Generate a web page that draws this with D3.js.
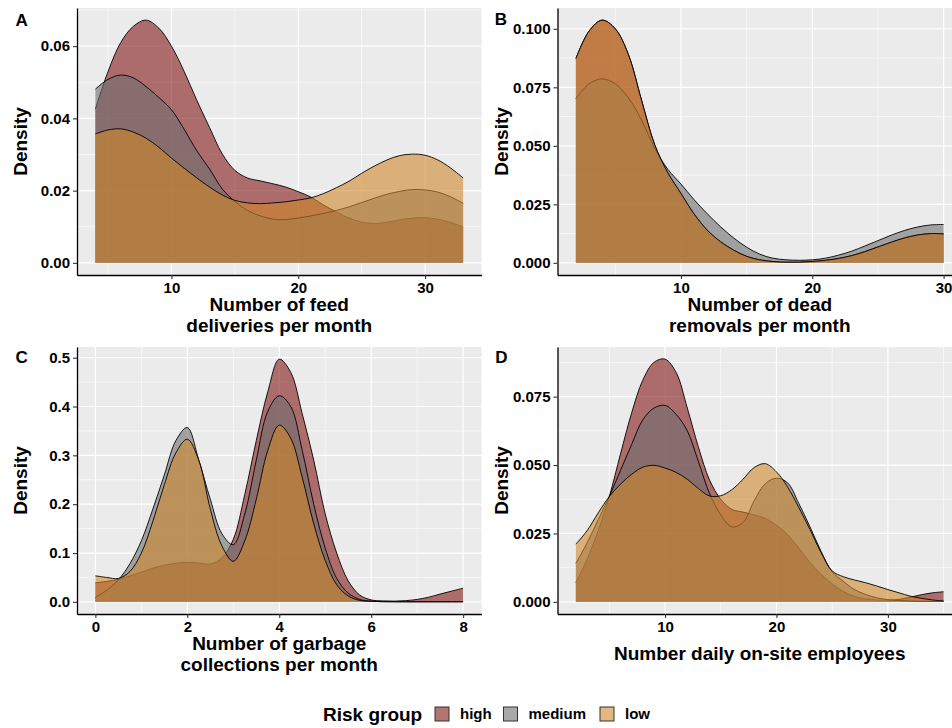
<!DOCTYPE html>
<html>
<head>
<meta charset="utf-8">
<script src="https://cdn.jsdelivr.net/npm/d3@7"></script>
<style>
  html, body { margin: 0; padding: 0; background: #ffffff; }
  svg { display: block; font-family: "Liberation Sans", Arial, Helvetica, sans-serif; }
</style>
</head>
<body>
<svg id="fig" width="952" height="728"></svg>
<script>
// ---- Risk groups (drawing order: high, medium, low) ----
const riskGroups = ["high", "medium", "low"];

// ---- A: feed deliveries per month (kernel density estimates) ----
const feedX = [4,5,6,7,8,9,10,11,12,13,14,15,16,17,18,19,20,21,22,23,24,25,26,27,28,29,30,31,32,33];
const feedHigh = [0.0426,0.053,0.061,0.0655,0.0672,0.065,0.060,0.053,0.045,0.0375,0.0302,0.0256,0.0235,0.0227,0.0219,0.0210,0.0197,0.0182,0.016,0.0141,0.0124,0.0113,0.0109,0.0112,0.0119,0.0124,0.0125,0.0121,0.0112,0.00995];
const feedMedium = [0.0481,0.0508,0.052,0.0512,0.0488,0.0458,0.0424,0.037,0.031,0.026,0.0205,0.017,0.0145,0.013,0.0121,0.012,0.0124,0.013,0.0137,0.0145,0.0155,0.0167,0.0179,0.019,0.0198,0.0203,0.0202,0.0196,0.0183,0.0165];
const feedLow = [0.0357,0.0368,0.0371,0.0362,0.0345,0.032,0.029,0.0262,0.0235,0.021,0.0188,0.0173,0.0166,0.0164,0.0166,0.0169,0.0174,0.018,0.0192,0.0208,0.0226,0.0248,0.0268,0.0285,0.0297,0.0301,0.0298,0.0285,0.0263,0.0235];
const feedTicksX = [10, 20, 30];
const feedTicksY = [0, 0.02, 0.04, 0.06];

// ---- B: dead removals per month ----
const deadX = [2,3,4,5,6,7,8,9,10,11,12,13,14,15,16,17,18,19,20,21,22,23,24,25,26,27,28,29,30];
const deadHigh = [0.0873,0.099,0.1037,0.1000,0.089,0.0695,0.0505,0.0385,0.0297,0.0209,0.014,0.0091,0.0055,0.0028,0.0013,0.0006,0.0003,0.0003,0.0006,0.0011,0.0019,0.0031,0.0048,0.0068,0.0088,0.0106,0.0119,0.0125,0.0124];
const deadMedium = [0.0702,0.0765,0.0786,0.0765,0.0705,0.061,0.049,0.040,0.0337,0.027,0.021,0.0155,0.0107,0.0067,0.0037,0.002,0.0013,0.0011,0.0013,0.002,0.0033,0.005,0.0072,0.0095,0.0118,0.0138,0.0153,0.0162,0.0164];
const deadLow = [0.0873,0.099,0.1037,0.1000,0.089,0.0695,0.0505,0.0385,0.0297,0.0209,0.014,0.0091,0.0055,0.0028,0.0013,0.0006,0.0003,0.0003,0.0006,0.0011,0.0019,0.0031,0.0048,0.0068,0.0088,0.0106,0.0119,0.0125,0.0124];
const deadTicksX = [10, 20, 30];
const deadTicksY = [0, 0.025, 0.05, 0.075, 0.1];

// ---- C: garbage collections per month ----
const garbageX = [0,0.25,0.5,0.75,1,1.25,1.5,1.75,2,2.25,2.5,2.75,3,3.25,3.5,3.75,4,4.25,4.5,4.75,5,5.25,5.5,5.75,6,6.25,6.5,6.75,7,7.25,7.5,7.75,8];
const garbageHigh = [0.039,0.042,0.046,0.053,0.061,0.069,0.075,0.079,0.081,0.0795,0.0775,0.09,0.128,0.22,0.33,0.43,0.497,0.47,0.385,0.29,0.18,0.10,0.043,0.014,0.004,0.002,0.0015,0.0025,0.005,0.0095,0.016,0.022,0.028];
const garbageMedium = [0.009,0.024,0.045,0.078,0.125,0.19,0.26,0.33,0.357,0.29,0.21,0.14,0.117,0.18,0.29,0.39,0.422,0.40,0.31,0.20,0.11,0.048,0.018,0.005,0.0015,0.0005,0.0003,0.0002,0.0002,0.0002,0.0002,0.0002,0.0002];
const garbageLow = [0.0533,0.050,0.048,0.062,0.10,0.165,0.24,0.305,0.333,0.29,0.19,0.115,0.083,0.125,0.21,0.31,0.362,0.335,0.255,0.16,0.085,0.035,0.012,0.003,0.001,0.0003,0.0002,0.0001,0.0001,0.0001,0.0001,0.0001,0.0001];
const garbageTicksX = [0, 2, 4, 6, 8];
const garbageTicksY = [0, 0.1, 0.2, 0.3, 0.4, 0.5];

// ---- D: daily on-site employees ----
const staffX = [2,3,4,5,6,7,8,9,10,11,12,13,14,15,16,17,18,19,20,21,22,23,24,25,26,27,28,29,30,31,32,33,34,35];
const staffHigh = [0.0071,0.0155,0.026,0.0385,0.054,0.069,0.081,0.0875,0.0887,0.0838,0.0708,0.0565,0.0445,0.0375,0.0338,0.0328,0.0318,0.0305,0.028,0.0246,0.0197,0.0145,0.0101,0.0066,0.0038,0.002,0.0011,0.0007,0.0006,0.0009,0.0017,0.0026,0.0033,0.0037];
const staffMedium = [0.0141,0.0215,0.030,0.0385,0.048,0.0575,0.0665,0.0708,0.0718,0.0685,0.0625,0.0512,0.0395,0.0318,0.0274,0.029,0.037,0.0432,0.0452,0.0435,0.036,0.0275,0.0185,0.011,0.0075,0.0045,0.0027,0.0015,0.0008,0.0005,0.0003,0.0002,0.0002,0.0002];
const staffLow = [0.0211,0.026,0.0325,0.0385,0.043,0.0466,0.0492,0.0499,0.0489,0.0473,0.0448,0.0414,0.0387,0.0388,0.041,0.0448,0.0491,0.0505,0.0475,0.042,0.0345,0.0265,0.018,0.0113,0.0092,0.008,0.007,0.0058,0.0045,0.0033,0.0021,0.0013,0.0007,0.0003];
const staffTicksX = [10, 20, 30];
const staffTicksY = [0, 0.025, 0.05, 0.075];

// ---- Styling ----
const groupFill = { high: "#841717", medium: "#6e6e6e", low: "#cf872b" };
const fillAlpha = 0.6;
const FONT = '"Liberation Sans", Arial, Helvetica, sans-serif';

const panels = [
  { tag: "A", x: feedX, series: { high: feedHigh, medium: feedMedium, low: feedLow },
    xTicks: feedTicksX, yTicks: feedTicksY, yFmt: ".2f",
    title: ["Number of feed", "deliveries per month"],
    box: { left: 77, right: 481.5, top: 8, bottom: 275 }, tagPos: [21.7, 25.5], ylabX: 20 },
  { tag: "B", x: deadX, series: { high: deadHigh, medium: deadMedium, low: deadLow },
    xTicks: deadTicksX, yTicks: deadTicksY, yFmt: ".3f",
    title: ["Number of dead", "removals per month"],
    box: { left: 557.5, right: 962, top: 8, bottom: 275 }, tagPos: [501, 25], ylabX: 501 },
  { tag: "C", x: garbageX, series: { high: garbageHigh, medium: garbageMedium, low: garbageLow },
    xTicks: garbageTicksX, yTicks: garbageTicksY, yFmt: ".1f",
    title: ["Number of garbage", "collections per month"],
    box: { left: 77, right: 481.5, top: 347, bottom: 614 }, tagPos: [21.7, 363], ylabX: 20 },
  { tag: "D", x: staffX, series: { high: staffHigh, medium: staffMedium, low: staffLow },
    xTicks: staffTicksX, yTicks: staffTicksY, yFmt: ".3f",
    title: ["Number daily on-site employees"],
    box: { left: 557.5, right: 962, top: 347, bottom: 614 }, tagPos: [501.5, 363], ylabX: 501, singleTitleOffset: 46 }
];

const svg = d3.select("#fig");

// minor breaks halfway between major breaks, kept inside the limits
function minorBreaks(ticks, domain) {
  const step = ticks[1] - ticks[0];
  const out = [];
  for (let t = ticks[0] - step / 2; t <= domain[1]; t += step) {
    if (t >= domain[0]) out.push(t);
  }
  return out;
}

function styleAxis(g) {
  g.attr("font-family", FONT).attr("font-size", null);
  g.select(".domain").attr("stroke", "#000").attr("stroke-width", 1.3);
  g.selectAll(".tick line").attr("stroke", "#333").attr("stroke-width", 1.1);
  g.selectAll(".tick text")
    .attr("fill", "#000")
    .attr("font-size", 15)
    .attr("font-weight", "bold");
}

panels.forEach((p, pi) => {
  const { left, right, top, bottom } = p.box;
  const allVals = riskGroups.flatMap(gr => p.series[gr]);
  const yMax = d3.max(allVals);
  const xExt = d3.extent(p.x);
  const xPad = (xExt[1] - xExt[0]) * 0.05;
  const x = d3.scaleLinear().domain([xExt[0] - xPad, xExt[1] + xPad]).range([left, right]);
  const y = d3.scaleLinear().domain([-yMax * 0.05, yMax * 1.05]).range([bottom, top]);

  const g = svg.append("g").attr("class", "panel-" + p.tag);

  // panel background
  g.append("rect")
    .attr("x", left).attr("y", top)
    .attr("width", right - left).attr("height", bottom - top)
    .attr("fill", "#ebebeb");

  // grid lines
  const grid = g.append("g");
  minorBreaks(p.xTicks, x.domain()).forEach(v => {
    grid.append("line").attr("x1", x(v)).attr("x2", x(v)).attr("y1", top).attr("y2", bottom)
      .attr("stroke", "#fff").attr("stroke-width", 0.6);
  });
  minorBreaks(p.yTicks, y.domain()).forEach(v => {
    grid.append("line").attr("y1", y(v)).attr("y2", y(v)).attr("x1", left).attr("x2", right)
      .attr("stroke", "#fff").attr("stroke-width", 0.6);
  });
  p.xTicks.forEach(v => {
    grid.append("line").attr("x1", x(v)).attr("x2", x(v)).attr("y1", top).attr("y2", bottom)
      .attr("stroke", "#fff").attr("stroke-width", 1.2);
  });
  p.yTicks.forEach(v => {
    grid.append("line").attr("y1", y(v)).attr("y2", y(v)).attr("x1", left).attr("x2", right)
      .attr("stroke", "#fff").attr("stroke-width", 1.2);
  });

  // clip to the panel
  const clipId = "clip-" + p.tag;
  svg.append("clipPath").attr("id", clipId)
    .append("rect").attr("x", left).attr("y", top)
    .attr("width", right - left).attr("height", bottom - top);

  const dens = g.append("g").attr("clip-path", `url(#${clipId})`);
  const curve = d3.curveCatmullRom.alpha(0.5);
  const area = d3.area().x(d => x(d[0])).y0(y(0)).y1(d => y(d[1])).curve(curve);
  const line = d3.line().x(d => x(d[0])).y(d => y(d[1])).curve(curve);

  riskGroups.forEach(gr => {
    const pts = p.x.map((xv, i) => [xv, p.series[gr][i]]);
    dens.append("path").attr("d", area(pts))
      .attr("fill", groupFill[gr]).attr("fill-opacity", fillAlpha).attr("stroke", "none");
    dens.append("path").attr("d", line(pts))
      .attr("fill", "none").attr("stroke", "#000").attr("stroke-width", 0.9);
  });

  // axes
  const yAxis = d3.axisLeft(y).tickValues(p.yTicks).tickFormat(d3.format(p.yFmt))
    .tickSize(4).tickSizeOuter(0).tickPadding(3);
  const xAxis = d3.axisBottom(x).tickValues(p.xTicks).tickFormat(d3.format("d"))
    .tickSize(4).tickSizeOuter(0).tickPadding(3);
  g.append("g").attr("transform", `translate(${left},0)`).call(yAxis).call(styleAxis);
  g.append("g").attr("transform", `translate(0,${bottom})`).call(xAxis).call(styleAxis);

  // axis titles
  g.append("text")
    .attr("transform", `translate(${p.ylabX},${(top + bottom) / 2}) rotate(-90)`)
    .attr("text-anchor", "middle").attr("dominant-baseline", "central")
    .attr("font-family", FONT).attr("font-size", 19).attr("font-weight", "bold")
    .text("Density");

  const cx = (left + right) / 2;
  if (p.title.length === 2) {
    p.title.forEach((t, i) => {
      g.append("text").attr("x", cx).attr("y", bottom + 36 + i * 21)
        .attr("text-anchor", "middle")
        .attr("font-family", FONT).attr("font-size", 19).attr("font-weight", "bold")
        .text(t);
    });
  } else {
    g.append("text").attr("x", cx).attr("y", bottom + p.singleTitleOffset)
      .attr("text-anchor", "middle")
      .attr("font-family", FONT).attr("font-size", 19).attr("font-weight", "bold")
      .text(p.title[0]);
  }

  // panel tag
  g.append("text").attr("x", p.tagPos[0]).attr("y", p.tagPos[1])
    .attr("text-anchor", "middle")
    .attr("font-family", FONT).attr("font-size", 17).attr("font-weight", "bold")
    .text(p.tag);
});

// ---- legend ----
const legend = svg.append("g").attr("class", "legend");
legend.append("text").attr("x", 323).attr("y", 721)
  .attr("font-family", FONT).attr("font-size", 19).attr("font-weight", "bold")
  .text("Risk group");
const keyX = { high: 435, medium: 503.5, low: 600 };
riskGroups.forEach(gr => {
  legend.append("rect").attr("x", keyX[gr]).attr("y", 707).attr("width", 14).attr("height", 14)
    .attr("fill", groupFill[gr]).attr("fill-opacity", fillAlpha)
    .attr("stroke", "#333").attr("stroke-width", 1);
  legend.append("text").attr("x", keyX[gr] + 25).attr("y", 719)
    .attr("font-family", FONT).attr("font-size", 15).attr("font-weight", "bold")
    .text(gr);
});
</script>
</body>
</html>
